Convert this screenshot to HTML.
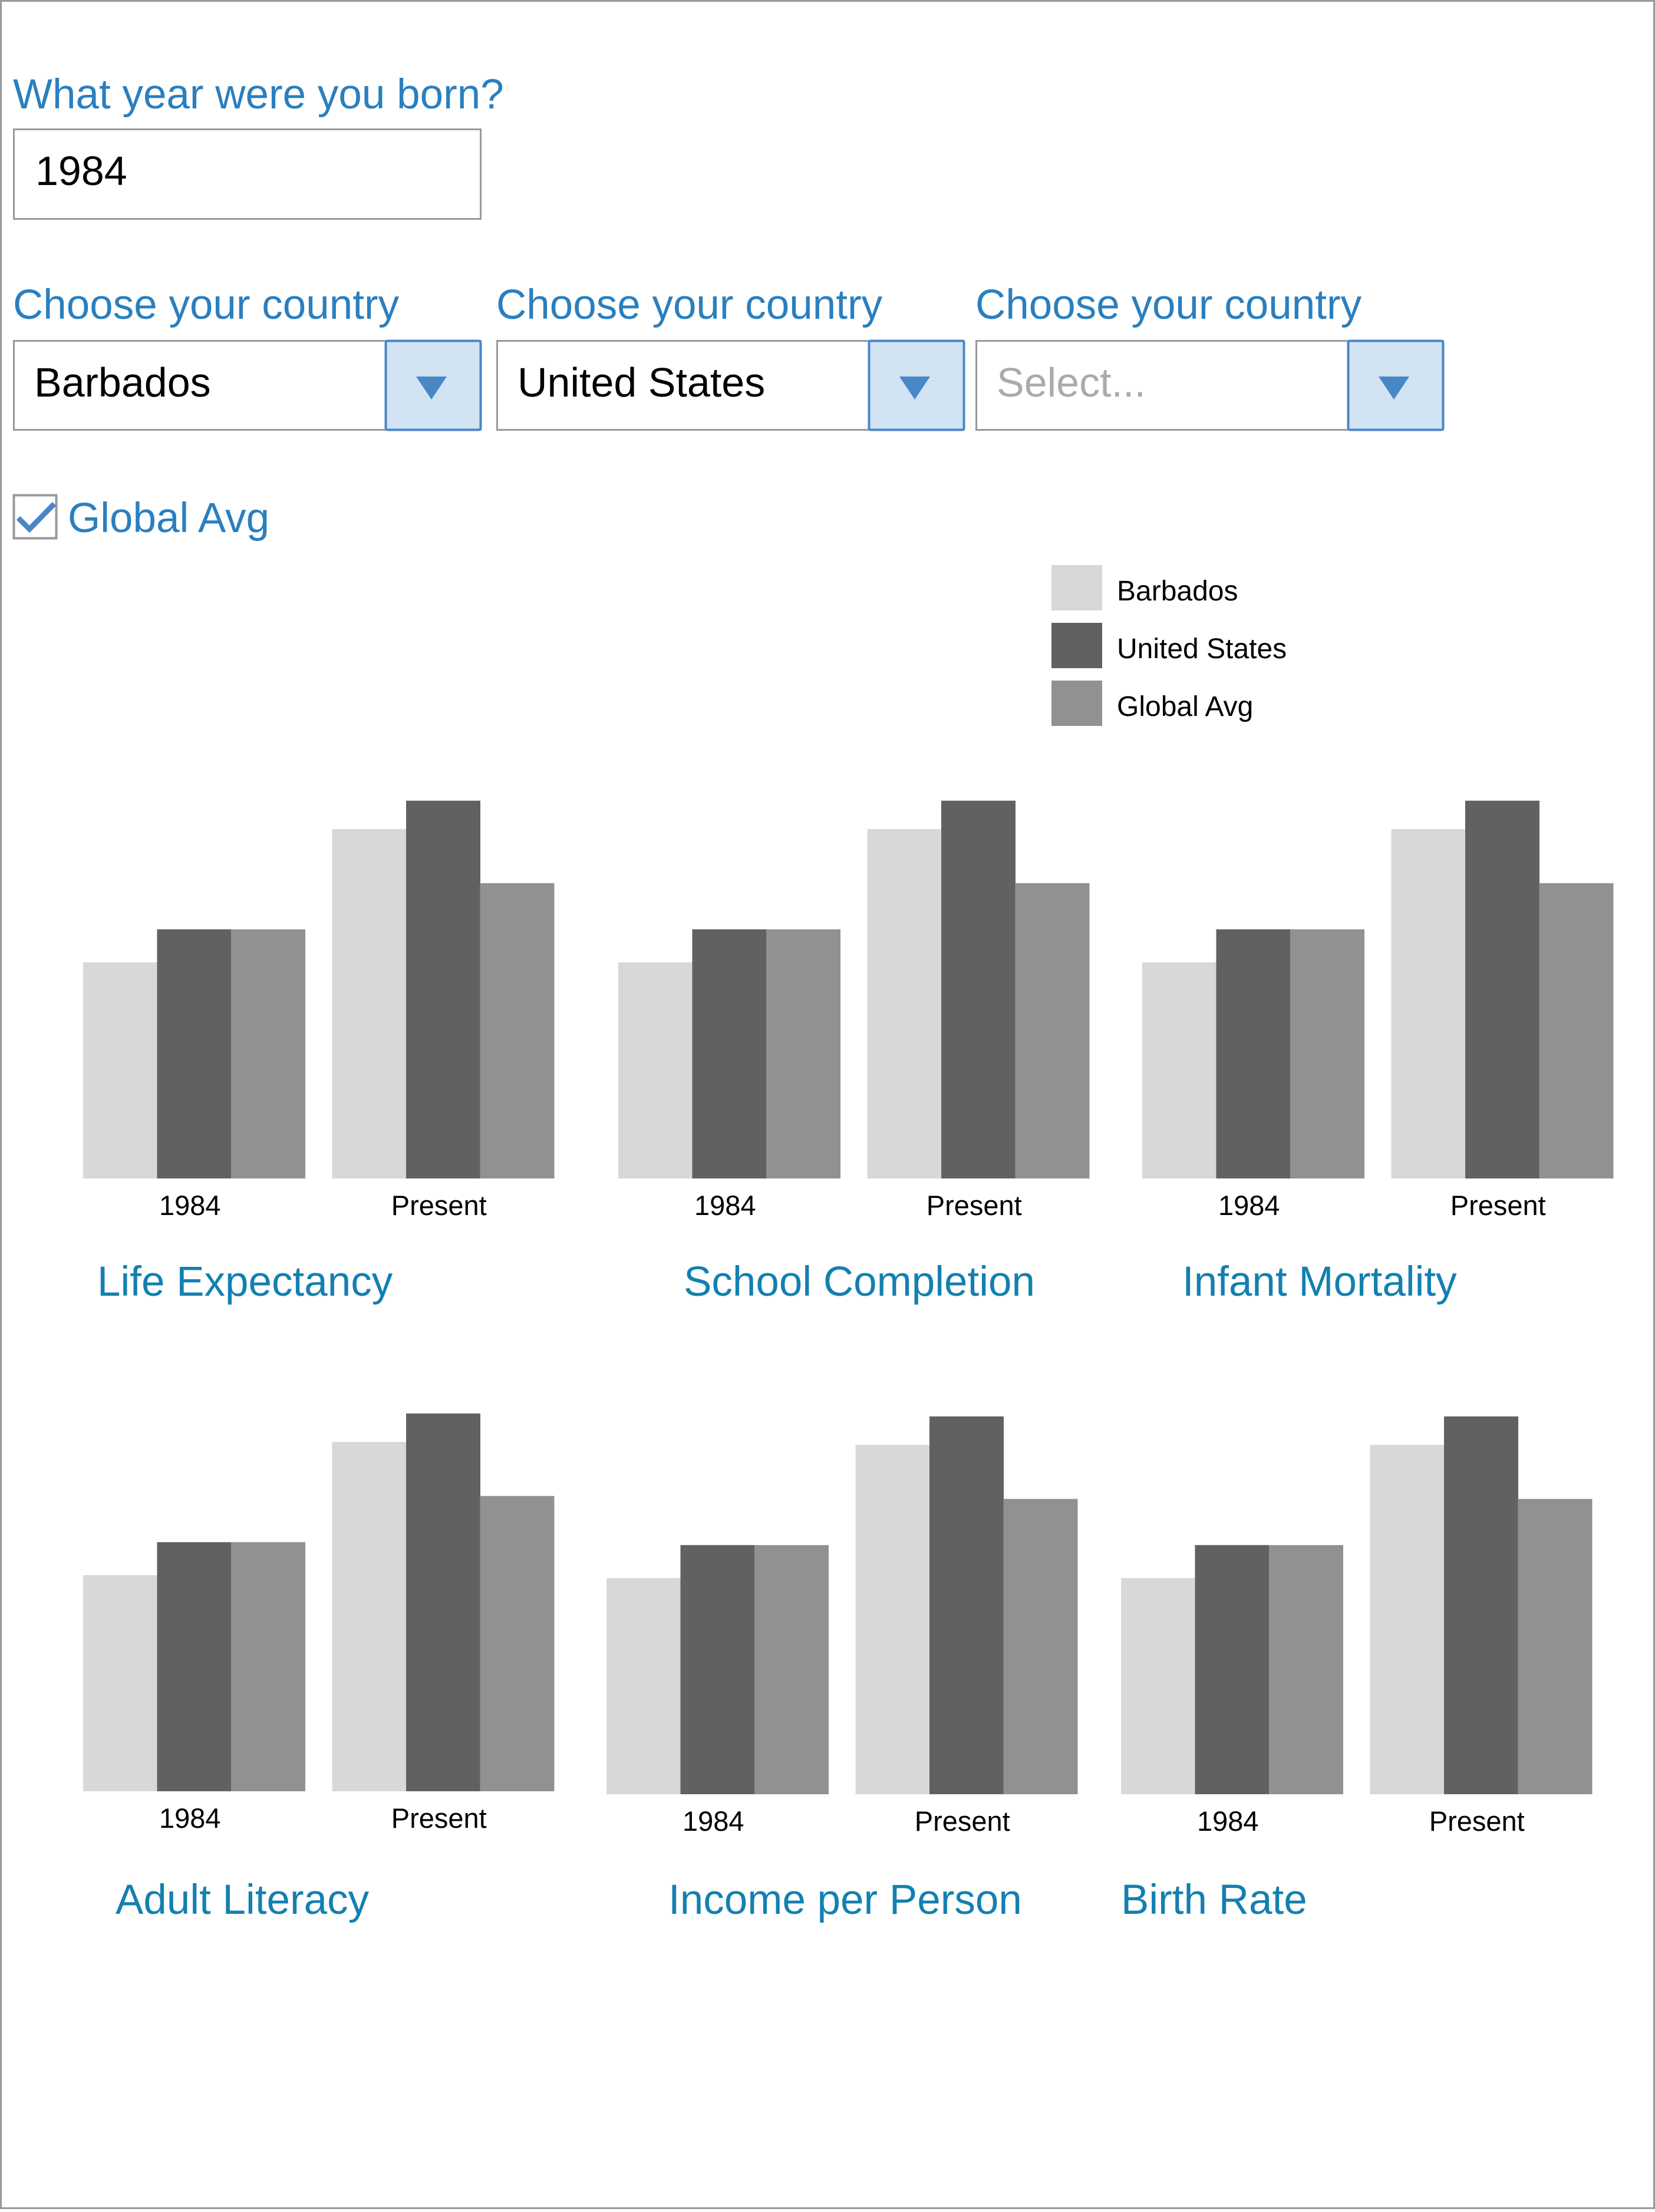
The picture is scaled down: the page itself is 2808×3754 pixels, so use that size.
<!DOCTYPE html>
<html><head><meta charset="utf-8"><style>
html,body{margin:0;padding:0;background:#fff}
body{width:2808px;height:3749px;overflow:hidden;font-family:"Liberation Sans",Arial,sans-serif}
</style></head><body>
<svg id="page" width="2808" height="3749" viewBox="0 0 2808 3749" xmlns="http://www.w3.org/2000/svg" font-family="Liberation Sans, Arial, sans-serif">
<rect x="1.5" y="1.5" width="2805" height="3746" fill="#fff" stroke="#999" stroke-width="3"/>
<text x="22" y="184" font-size="71" fill="#2a7fbf">What year were you born?</text>
<g>
<rect x="23.5" y="219.5" width="792" height="152" fill="#fff" stroke="#999" stroke-width="3"/>
<text x="60" y="314" font-size="70" fill="#000">1984</text>
</g>
<g id="dropdowns"></g>
<g>
<rect x="23.5" y="840.5" width="72" height="73" fill="#fff" stroke="#999" stroke-width="4"/>
<polyline points="31,879 50,898 92,855" fill="none" stroke="#4a86c8" stroke-width="9"/>
</g>
<text x="115" y="903" font-size="71" fill="#2a7fbf">Global Avg</text>
<g>
<g><rect x="1784" y="959" width="86" height="77" fill="#d8d8d8"/><text x="1895" y="1019" font-size="48" fill="#000">Barbados</text></g>
<g><rect x="1784" y="1057" width="86" height="77" fill="#616161"/><text x="1895" y="1117" font-size="48" fill="#000">United States</text></g>
<g><rect x="1784" y="1155" width="86" height="77" fill="#919191"/><text x="1895" y="1215" font-size="48" fill="#000">Global Avg</text></g>
</g>
<g id="charts"></g>
</svg>
<script>
const NS='http://www.w3.org/2000/svg';
const periods=['1984','Present'];
const seriesNames=['Barbados','United States','Global Avg'];
const barbadosVals=[52.4,84.7];
const usVals=[60.4,91.6];
const globalVals=[60.4,71.6];
const chartTitles=['Life Expectancy','School Completion','Infant Mortality','Adult Literacy','Income per Person','Birth Rate'];
const colors=['#d8d8d8','#616161','#919191'];
const pxPerUnit=7;
function el(t,a){const e=document.createElementNS(NS,t);for(const k in a)e.setAttribute(k,a[k]);return e;}
const dd=document.getElementById('dropdowns');
const ddX=[22,842,1655], ddVal=['Barbados','United States','Select...'];
ddX.forEach((x,i)=>{
  const lab=el('text',{x:x,y:541,'font-size':71,fill:'#2a7fbf'});lab.textContent='Choose your country';
  
  
  dd.appendChild(lab);
  const g=el('g',{});
  
  
  g.appendChild(el('rect',{x:x+1.5,y:578.5,width:792,height:151,fill:'#fff',stroke:'#999','stroke-width':3}));
  const t=el('text',{x:x+36,y:673,'font-size':70,fill:i==2?'#aaa':'#000'});t.textContent=ddVal[i];g.appendChild(t);
  const b=el('rect',{x:x+632.5,y:578.5,width:161,height:151,fill:'#d2e3f3',stroke:'#4a86c8','stroke-width':4,rx:3});
  
  
  g.appendChild(b);
  g.appendChild(el('polygon',{points:`${x+684},639 ${x+736},639 ${x+710},678`,fill:'#4687c6'}));
  dd.appendChild(g);
});
const charts=document.getElementById('charts');
const layout=[
 {x:141,base:2000,lab:2062,tx:165,ty:2199,bw:125.5},
 {x:1049,base:2000,lab:2062,tx:1160,ty:2199,bw:125.5},
 {x:1938,base:2000,lab:2062,tx:2006,ty:2199,bw:125.5},
 {x:141,base:3040,lab:3102,tx:196,ty:3248,bw:125.5},
 {x:1029,base:3045,lab:3107,tx:1134,ty:3248,bw:125.5},
 {x:1902,base:3045,lab:3107,tx:1902,ty:3248,bw:125.5}];
const gap=46;
const vals=[barbadosVals,usVals,globalVals];
layout.forEach((L,c)=>{
  const g=el('g',{});
  
  
  periods.forEach((p,pi)=>{
    const gx=L.x+pi*(3*L.bw+gap);
    vals.forEach((arr,s)=>{
      const h=arr[pi]*pxPerUnit;
      const r=el('rect',{x:gx+s*L.bw,y:L.base-h,width:L.bw+0.5,height:h,fill:colors[s]});
      
      
      g.appendChild(r);
    });
    const t=el('text',{x:gx+1.5*L.bw-7,y:L.lab,'font-size':47,'text-anchor':'middle',fill:'#000'});
    t.textContent=p;
    
    
    g.appendChild(t);
  });
  const tt=el('text',{x:L.tx,y:L.ty,'font-size':71,fill:'#1380b0'});
  tt.textContent=chartTitles[c];
  
  
  g.appendChild(tt);
  charts.appendChild(g);
});
</script>
</body></html>
